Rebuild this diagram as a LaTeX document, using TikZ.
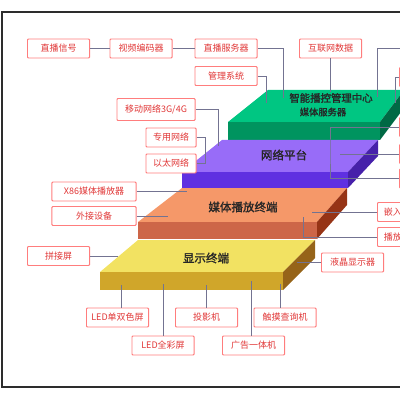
\documentclass[tikz,border=0pt]{standalone}
\usepackage{fontspec}
\newfontfamily\cjk{Noto Sans CJK SC}
\newfontfamily\cjkbf[FakeBold=1.6]{Noto Sans CJK SC}
\usepackage{tikz}

\definecolor{boxred}{RGB}{255,125,125}
\definecolor{txtred}{RGB}{225,55,55}
\definecolor{wire}{RGB}{115,115,145}
\definecolor{frame}{RGB}{45,45,45}
\definecolor{gtop}{RGB}{0,198,130}
\definecolor{gfront}{RGB}{0,148,95}
\definecolor{gside}{RGB}{0,105,68}
\definecolor{ptop}{RGB}{152,108,248}
\definecolor{pfront}{RGB}{95,48,225}
\definecolor{pside}{RGB}{70,32,170}
\definecolor{otop}{RGB}{245,152,105}
\definecolor{ofront}{RGB}{205,102,72}
\definecolor{oside}{RGB}{150,52,22}
\definecolor{ytop}{RGB}{242,226,98}
\definecolor{yfront}{RGB}{208,166,42}
\definecolor{yside}{RGB}{150,100,25}

\begin{document}
\begin{tikzpicture}[
    x=0.025cm, y=-0.025cm,
    box/.style={draw=boxred, line width=0.7pt, fill=white, rectangle, rounded corners=0.6pt, align=center, inner sep=0pt, text=txtred, font=\cjk\fontsize{6.4}{7}\selectfont, minimum width=1.55cm, minimum height=0.475cm},
    edgebox/.style={box, anchor=west, text width=1.35cm, align=left, inner xsep=4.5pt},
    layer/.style={font=\cjkbf\fontsize{8.2}{9}\selectfont, text=black!85},
    line/.style={draw=wire, line width=0.7pt}
]
\clip (0,0) rectangle (400,400);

% frame
\draw[frame, line width=1pt] (402,12) -- (2,12) -- (2,387) -- (402,387);

% layers, back to front
\fill[gtop] (228,122) -- (268,90) -- (404,90) -- (380,122) -- cycle;
\fill[gfront] (228,122) rectangle (380,140);
\fill[gside] (380,122) -- (404,90) -- (404,108) -- (380,140) -- cycle;

\fill[ptop] (182,172) -- (222,140) -- (378,140) -- (348,172) -- cycle;
\fill[pfront] (182,172) rectangle (348,188);
\fill[pside] (348,172) -- (378,140) -- (378,156) -- (348,188) -- cycle;

\fill[otop] (138,222) -- (182,188) -- (347,188) -- (317,222) -- cycle;
\fill[ofront] (138,222) rectangle (317,239);
\fill[oside] (317,222) -- (347,188) -- (347,205) -- (317,239) -- cycle;

\fill[ytop] (100,272) -- (138,240) -- (315,240) -- (283,272) -- cycle;
\fill[yfront] (100,272) rectangle (283,290);
\fill[yside] (283,272) -- (315,240) -- (315,258) -- (283,290) -- cycle;

\node[layer, font=\cjkbf\fontsize{7.4}{8}\selectfont] (center) at (331,98) {智能播控管理中心};
\node[layer, font=\cjkbf\fontsize{6.6}{7}\selectfont] (media) at (323,112) {媒体服务器};
\node[layer] (net) at (284,155) {网络平台};
\node[layer] (player) at (243,207) {媒体播放终端};
\node[layer] (display) at (206,258) {显示终端};

% ends of the connectors on the layers
\coordinate (g1) at (283,98);
\coordinate (g2) at (266,103);
\coordinate (g3) at (330.5,92);
\coordinate (g4) at (377,97);
\coordinate (g5) at (395,103);
\coordinate (g6) at (340,154);
\coordinate (r0) at (400,48);
\coordinate (q1) at (330,150);
\coordinate (p1) at (218,146);
\coordinate (p2) at (205,163.5);
\coordinate (o1) at (187,191.5);
\coordinate (o2) at (168,216);
\coordinate (o3) at (312,212);
\coordinate (o4) at (303,217);
\coordinate (y1) at (118,256);
\coordinate (y2) at (121,285);
\coordinate (y3) at (163,284);
\coordinate (y4) at (206.5,285);
\coordinate (y5) at (251,281);
\coordinate (y6) at (280,284);
\coordinate (y7) at (297,262.5);

% boxes
\node[box] (zbxh) at (58.5,48.5) {直播信号};
\node[box] (spbm) at (141,48.5) {视频编码器};
\node[box] (zbfw) at (226,48.5) {直播服务器};
\node[box] (hlw) at (330.5,48.5) {互联网数据};
\node[box] (glxt) at (226,76) {管理系统};
\node[box, minimum width=1.95cm, minimum height=0.55cm] (ydwl) at (156,109.5) {移动网络3G/4G};
\node[box, minimum width=1.25cm] (zywl) at (171,137.5) {专用网络};
\node[box, minimum width=1.25cm] (ytwl) at (171,163.5) {以太网络};
\node[box, minimum width=2.1cm] (x86) at (94,191.5) {X86媒体播放器};
\node[box, minimum width=2.1cm] (wjsb) at (94,216) {外接设备};
\node[box] (pjp) at (58.5,256) {拼接屏};
\node[box] (led1) at (117.5,317.5) {LED单双色屏};
\node[box] (led2) at (163,345.5) {LED全彩屏};
\node[box] (tyj) at (206.5,317.5) {投影机};
\node[box] (cmcx) at (285,317.5) {触摸查询机};
\node[box] (ggyt) at (253.5,345.5) {广告一体机};
\node[box] (yjxs) at (352.5,262.5) {液晶显示器};
\node[edgebox] (qr) at (377,212) {嵌入};
\node[edgebox] (bf) at (377,237) {播放};
\node[edgebox] (r1) at (399,77) {};
\node[edgebox] (r2) at (399,127) {};
\node[edgebox] (r3) at (399,154) {};
\node[edgebox] (r4) at (399,178.5) {};

% connectors
\draw[line] (zbxh.east) -- (spbm.west);
\draw[line] (spbm.east) -- (zbfw.west);
\draw[line] (zbfw.east) -| (g1);
\draw[line] (glxt.east) -| (g2);
\draw[line] (hlw.south) -- (g3);
\draw[line] (r0) -| (g4);
\draw[line] (r1.west) -| (g5);
\draw[line] (r2.west) -| (q1) |- (r4.west);
\draw[line] (r3.west) -- (g6);
\draw[line] (ydwl.east) -| (p1);
\draw[line] (zywl.east) -| (p2);
\draw[line] (ytwl.east) -- (p2);
\draw[line] (x86.east) -- (o1);
\draw[line] (wjsb.east) -- (o2);
\draw[line] (qr.west) -- (o3);
\draw[line] (bf.west) -| (o4);
\draw[line] (pjp.east) -- (y1);
\draw[line] (y2) -- (y2 |- led1.north);
\draw[line] (y3) -- (led2.north);
\draw[line] (y4) -- (tyj.north);
\draw[line] (y5) -- (y5 |- ggyt.north);
\draw[line] (y6) -- (y6 |- cmcx.north);
\draw[line] (yjxs.west) -- (y7);

\end{tikzpicture}
\end{document}
